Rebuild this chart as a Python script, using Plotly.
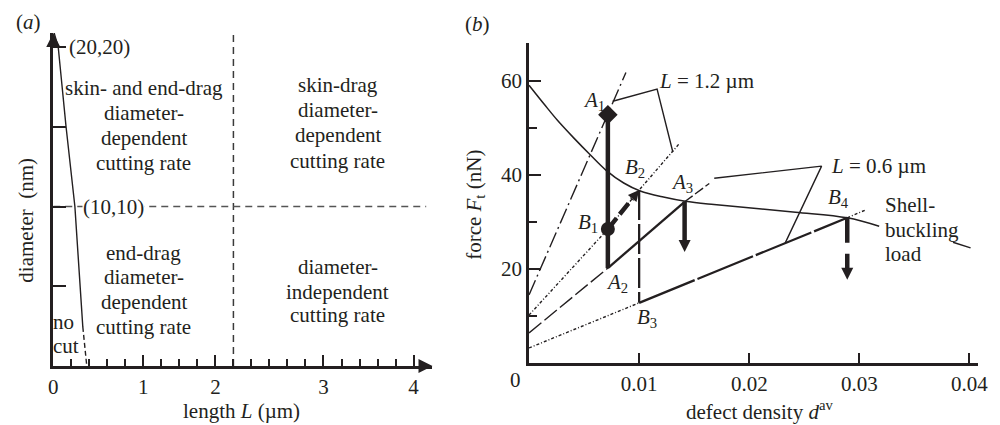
import math
import plotly.graph_objects as go

FONT = "Liberation Serif, Times New Roman, serif"
INK = "#231f20"
FS = 21

# ---------------- panel (a) data ----------------
a_xtick_pos = [0, 1, 1.8, 3, 4]
a_xtick_text = ["0", "1", "2", "3", "4"]
a_ytick_pos = [5, 10, 15, 20]
a_xmax = 4.21
a_ymax = 20.88
cut_L = [0.010, 0.055, 0.142, 0.240, 0.328]
cut_d = [20.88, 20.0, 15.0, 10.0, 2.45]
cut_tail_L = [0.328, 0.372]
cut_tail_d = [2.45, 0.0]
L_crit = 2.0
d_crit = 10.0

region_text = ["skin- and end-drag", "diameter-", "dependent", "cutting rate",
               "skin-drag", "diameter-", "dependent", "cutting rate",
               "end-drag", "diameter-", "dependent", "cutting rate",
               "diameter-", "independent", "cutting rate"]
region_L = [1.005] * 4 + [3.158] * 4 + [1.005] * 4 + [3.158] * 3
region_d = [17.43, 15.86, 14.29, 12.73,
            17.62, 16.05, 14.48, 12.85,
            7.08, 5.58, 4.01, 2.45,
            6.21, 4.64, 3.20]
nocut_text = ["no", "cut"]
nocut_L = [0.005, 0.005]
nocut_d = [2.76, 1.25]
corner_text = ["(20,20)", "(10,10)"]
corner_L = [0.15, 0.317]
corner_d = [20.0, 10.0]

# ---------------- panel (b) data ----------------
b_xtick_pos = [0.01, 0.02, 0.03, 0.04]
b_xtick_text = ["0.01", "0.02", "0.03", "0.04"]
b_ytick_pos = [20, 40, 60]
b_yminor_pos = [10, 30, 50]
b_xmax = 0.04079
b_ymax = 68.09

shell_d = [0.0, 0.0014, 0.0026, 0.0041, 0.0056, 0.0070, 0.0086, 0.0101, 0.0122, 0.0142,
           0.0168, 0.0242, 0.0289, 0.0318, None, 0.0385, 0.0401]
shell_F = [59.1, 55.0, 51.6, 47.8, 44.2, 41.0, 38.3, 36.6, 35.3, 34.4,
           33.7, 32.1, 30.9, 29.1, None, 25.7, 24.5]

# L = 1.2 um
a12_d = [0.0, 0.00716, 0.0088]
a12_F = [14.5, 52.8, 61.8]
b12_d = [0.0, 0.00716, 0.0100, 0.01369]
b12_F = [10.2, 28.5, 36.8, 46.8]
lab12_d = [0.0076, 0.01163, 0.01306]
lab12_F = [55.7, 58.3, 44.9]
# L = 0.6 um
a06_d = [0.0, 0.00716, 0.01413, 0.01637]
a06_F = [6.4, 20.2, 34.3, 38.2]
b06_d = [0.0, 0.0100, 0.0289, 0.0305]
b06_F = [3.2, 12.8, 30.9, 32.5]
lab06_d = [0.01682, 0.02657, 0.02326]
lab06_F = [39.3, 41.9, 25.5]

# key points
pt_name = ["A1", "A2", "A3", "B1", "B2", "B3", "B4"]
pt_d = [0.00716, 0.00716, 0.01413, 0.00716, 0.0100, 0.0100, 0.0289]
pt_F = [52.8, 20.2, 34.3, 28.5, 36.8, 12.8, 30.9]
pt_label_dx = [-14, 9, -3, -20, -4, 8, -9]
pt_label_dy = [14, -15, 19, 6, 22, -15, 20]
A3_tip_F = 23.6
B4_tip_F = 17.7

P = dict(zip(pt_name, zip(pt_d, pt_F)))

fig = go.Figure()


def line(x, y, ax="a", width=1.3, dash="solid", color=INK, shape="linear"):
    xa, ya = ("x", "y") if ax == "a" else ("x2", "y2")
    fig.add_trace(go.Scatter(x=x, y=y, xaxis=xa, yaxis=ya, mode="lines",
                             line=dict(color=color, width=width, dash=dash, shape=shape),
                             hoverinfo="skip", cliponaxis=False))


def marker(x, y, symbol, size, ax="b", angle=0):
    xa, ya = ("x", "y") if ax == "a" else ("x2", "y2")
    fig.add_trace(go.Scatter(x=x, y=y, xaxis=xa, yaxis=ya, mode="markers",
                             marker=dict(symbol=symbol, size=size, color=INK, angle=angle,
                                         line=dict(width=0)),
                             hoverinfo="skip", cliponaxis=False))


# ---- panel (a) ----
line([L_crit, L_crit], [0, a_ymax], "a", 1.5, "7px,5px", "#3a3a3a")
line([0, 4.14], [d_crit, d_crit], "a", 1.5, "7px,5px", "#555555")
line(cut_L, cut_d, "a", 1.4)
line(cut_tail_L, cut_tail_d, "a", 1.4, "5px,3px")
marker([0], [a_ymax], "arrow-up", 14, "a")
marker([a_xmax], [0], "arrow-right", 14, "a")

# ---- panel (b) ----
line(shell_d, shell_F, "b", 1.5, shape="spline")
line(a12_d, a12_F, "b", 1.4, "16px,4px,2px,4px")
line(b12_d, b12_F, "b", 1.4, "3px,2px,1px,2px")
line(lab12_d, lab12_F, "b", 1.4)
line(a06_d[:2], a06_F[:2], "b", 1.4, "16px,4px")
line(a06_d[1:3], a06_F[1:3], "b", 2.3)
line(a06_d[2:], a06_F[2:], "b", 1.4, "10px,3px")
line(b06_d[:2], b06_F[:2], "b", 1.4, "3px,2px,1px,2px")
line(b06_d[1:3], b06_F[1:3], "b", 2.3, "60px,3px")
line(b06_d[2:], b06_F[2:], "b", 1.4, "3px,2px,1px,2px")
line(lab06_d, lab06_F, "b", 1.4)
# vertical drop B2 -> B3
line([P["B2"][0], P["B3"][0]], [P["B2"][1], P["B3"][1]], "b", 2.3, "30px,4px")
# thick bar A1 -> A2
line([P["A1"][0], P["A2"][0]], [P["A1"][1], P["A2"][1]], "b", 4.5)
# thick dashed arrow B1 -> B2
frac = 0.78
line([P["B1"][0], P["B1"][0] + frac * (P["B2"][0] - P["B1"][0])],
     [P["B1"][1], P["B1"][1] + frac * (P["B2"][1] - P["B1"][1])], "b", 4.5, "14px,5px")
ang = math.degrees(math.atan2((P["B2"][0] - P["B1"][0]) * 11180, (P["B2"][1] - P["B1"][1]) * 4.7))
marker([P["B2"][0]], [P["B2"][1]], "arrow-up", 11, "b", ang)
# A3 solid down arrow
line([P["A3"][0], P["A3"][0]], [P["A3"][1], A3_tip_F + 1.5], "b", 4.5)
marker([P["A3"][0]], [A3_tip_F], "arrow-down", 12, "b")
# B4 dashed down arrow
line([P["B4"][0], P["B4"][0]], [P["B4"][1], B4_tip_F + 1.5], "b", 4.5, "25px,11px")
marker([P["B4"][0]], [B4_tip_F], "arrow-down", 12, "b")
# point markers
marker([P["A1"][0]], [P["A1"][1]], "diamond", 15, "b")
marker([P["B1"][0]], [P["B1"][1]], "circle", 14, "b")

ann = []


def text(x, y, s, ax="a", xanchor="center", xshift=0, yshift=0, bg=None, size=FS):
    xa, ya = ("x", "y") if ax == "a" else ("x2", "y2")
    d = dict(x=x, y=y, xref=xa, yref=ya, text=s, showarrow=False, xanchor=xanchor,
             yanchor="middle", xshift=xshift, yshift=yshift,
             font=dict(family=FONT, size=size, color=INK))
    if bg:
        d["bgcolor"] = bg
        d["borderpad"] = 0
    ann.append(d)


for s, x, y in zip(region_text, region_L, region_d):
    text(x, y, s)
for s, x, y in zip(nocut_text, nocut_L, nocut_d):
    text(x, y, s, xanchor="left", xshift=-3)
text(corner_L[0], corner_d[0], corner_text[0], xanchor="left")
text(corner_L[1], corner_d[1], corner_text[1], xanchor="left", bg="white")

for n, dx, dy in zip(pt_name, pt_label_dx, pt_label_dy):
    text(P[n][0], P[n][1], "<i>%s</i><sub>%s</sub>" % (n[0], n[1]), "b", "center", dx, dy)

text(lab12_d[1], lab12_F[1], "<i>L</i> = 1.2 µm", "b", "left", 0, 8)
text(lab06_d[1], lab06_F[1], "<i>L</i> = 0.6 µm", "b", "left", 7, 0)
shell_lines = ["Shell-", "buckling", "load"]
for i, s in enumerate(shell_lines):
    text(0.03238, 33.6 - i * 5.2, s, "b", "left", -3)
text(0, 0, "0", "b", "center", -14, -17)


def ptext(px, py, s, angle=0):
    ann.append(dict(x=px / 1000, y=1 - py / 425, xref="paper", yref="paper", text=s,
                    showarrow=False, xanchor="center", yanchor="middle", textangle=angle,
                    font=dict(family=FONT, size=FS, color=INK)))


ptext(24, 22, "(<i>a</i>)")
ptext(480, 24, "(<i>b</i>)")
ptext(240, 411, "length <i>L</i> (µm)")
ptext(766, 410, "defect density <i>d</i><sup>av</sup>")
ptext(21, 220, "diameter  (nm)", -90)
ptext(477, 205, "force <i>F</i><sub>t</sub> (nN)", -90)

axis_common = dict(showline=True, linewidth=2.5, linecolor=INK, showgrid=False, zeroline=False,
                   ticks="inside", tickcolor=INK, tickwidth=1.5,
                   tickfont=dict(family=FONT, size=FS, color=INK))

fig.update_layout(
    width=1000, height=425, margin=dict(l=0, r=0, t=0, b=0),
    paper_bgcolor="white", plot_bgcolor="white", showlegend=False,
    font=dict(family=FONT, size=FS, color=INK),
    xaxis=dict(axis_common, domain=[0.049, 0.434], range=[0, a_xmax], anchor="y",
               tickmode="array", tickvals=a_xtick_pos, ticktext=a_xtick_text, ticklen=11,
               minor=dict(tickmode="linear", tick0=0, dtick=0.2, ticks="inside", ticklen=7,
                          tickwidth=1.5, tickcolor=INK)),
    yaxis=dict(axis_common, domain=[1 - 366 / 425, 1 - 33 / 425], range=[0, a_ymax], anchor="x",
               tickmode="array", tickvals=a_ytick_pos, ticklen=13, showticklabels=False),
    xaxis2=dict(axis_common, domain=[0.532, 0.988], range=[0, b_xmax], anchor="y2",
                tickmode="array", tickvals=b_xtick_pos, ticktext=b_xtick_text, ticklen=10),
    yaxis2=dict(axis_common, domain=[1 - 363 / 425, 1 - 43 / 425], range=[0, b_ymax], anchor="x2",
                tickmode="array", tickvals=b_ytick_pos, ticklen=12,
                minor=dict(tickmode="array", tickvals=b_yminor_pos, ticks="inside", ticklen=8,
                           tickwidth=1.5, tickcolor=INK)),
    annotations=ann,
)

fig.write_html("out.html")
